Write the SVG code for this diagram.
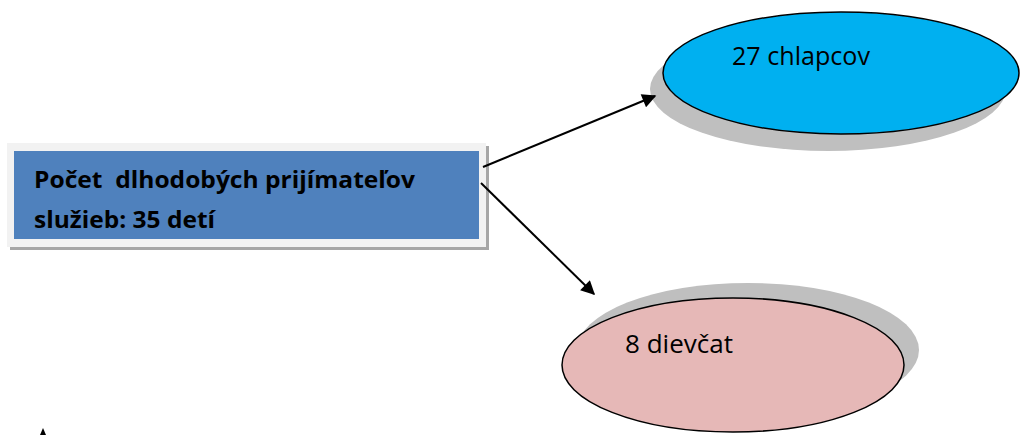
<svg xmlns="http://www.w3.org/2000/svg" width="1021" height="435" viewBox="0 0 1021 435">
<defs>
<style>
.t{font-family:"Open Sans","Liberation Sans",Arial,sans-serif;fill:#000;white-space:pre}
.b{font-weight:bold;font-size:24px}
.r{font-size:26px}
.conn{stroke:#000;stroke-width:2;fill:none}
.edge{stroke:#000;stroke-width:1.5}
.sh{fill:#BFBFBF}
</style>
<marker id="ah" viewBox="0 0 10 10" refX="9" refY="5" markerWidth="16" markerHeight="14" markerUnits="userSpaceOnUse" orient="auto">
<path d="M0,0 L10,5 L0,10 z" fill="#000"/>
</marker>
</defs>
<rect width="1021" height="435" fill="#fff"/>
<g id="source">
<rect x="10" y="146" width="479" height="104" fill="#A6A6A6"/>
<rect x="7" y="143" width="479" height="104" fill="#F2F2F2"/>
<rect x="14" y="151" width="465" height="88" fill="#4F81BD"/>
<text class="t b" x="34" y="188" textLength="381" lengthAdjust="spacingAndGlyphs" xml:space="preserve">Počet  dlhodobých prijímateľov</text>
<text class="t b" x="34" y="228" textLength="181" lengthAdjust="spacingAndGlyphs">služieb: 35 detí</text>
</g>
<g id="boys">
<ellipse class="sh" cx="828" cy="89" rx="178" ry="62"/>
<ellipse cx="841" cy="73" rx="178" ry="61" fill="#00B0F0" class="edge"/>
<text class="t r" x="732" y="65" textLength="138" lengthAdjust="spacingAndGlyphs">27 chlapcov</text>
</g>
<g id="girls">
<ellipse class="sh" cx="748" cy="350" rx="171" ry="67"/>
<ellipse cx="733" cy="365" rx="171" ry="67" fill="#E6B8B7" class="edge"/>
<text class="t r" x="625" y="353" textLength="108" lengthAdjust="spacingAndGlyphs">8 dievčat</text>
</g>
<g id="connectors">
<line class="conn" x1="483" y1="167" x2="655" y2="96" marker-end="url(#ah)"/>
<line class="conn" x1="481" y1="183" x2="594" y2="294" marker-end="url(#ah)"/>
<polygon points="43,428 40,435 46,435" fill="#000"/>
</g>
</svg>
